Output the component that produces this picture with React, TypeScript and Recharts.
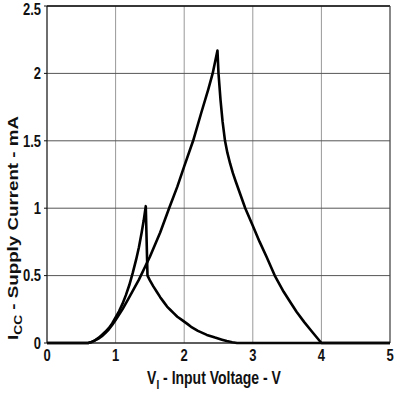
import { LineChart, Line, XAxis, YAxis, CartesianGrid, ReferenceLine } from 'recharts'

// Curve with the sharp peak near 1.45 V
const spikeVolts = [0, 0.6, 0.65, 0.7, 0.75, 0.8, 0.85, 0.9, 0.95, 1.0, 1.05, 1.1, 1.15, 1.2, 1.25, 1.3, 1.34, 1.38, 1.41, 1.44, 1.465, 1.5, 1.55, 1.6, 1.65, 1.7, 1.75, 1.8, 1.85, 1.9, 1.97, 2.05, 2.1, 2.2, 2.33, 2.45, 2.55, 2.62, 2.7, 2.77, 5]
const spikeCurrent = [0, 0, 0.008, 0.02, 0.038, 0.06, 0.083, 0.11, 0.145, 0.19, 0.235, 0.29, 0.355, 0.43, 0.52, 0.62, 0.71, 0.82, 0.91, 1.015, 0.5, 0.465, 0.42, 0.38, 0.34, 0.305, 0.27, 0.245, 0.22, 0.195, 0.17, 0.14, 0.12, 0.09, 0.06, 0.04, 0.025, 0.015, 0.006, 0, 0]

// Curve with the big peak near 2.5 V
const mainVolts = [0, 0.6, 0.65, 0.7, 0.75, 0.8, 0.85, 0.9, 0.95, 1.0, 1.1, 1.2, 1.34, 1.5, 1.65, 1.78, 1.9, 2.0, 2.13, 2.25, 2.35, 2.415, 2.485, 2.5, 2.53, 2.56, 2.595, 2.63, 2.67, 2.71, 2.75, 2.82, 2.89, 3.0, 3.1, 3.2, 3.32, 3.45, 3.55, 3.64, 3.75, 3.87, 4.0, 5]
const mainCurrent = [0, 0, 0.007, 0.02, 0.033, 0.05, 0.073, 0.1, 0.133, 0.17, 0.25, 0.34, 0.47, 0.64, 0.82, 1.0, 1.16, 1.31, 1.5, 1.71, 1.88, 2.0, 2.17, 2.0, 1.8, 1.64, 1.5, 1.41, 1.33, 1.26, 1.2, 1.1, 1.0, 0.87, 0.75, 0.64, 0.5, 0.38, 0.3, 0.23, 0.155, 0.08, 0, 0]

const xTicks = [0, 1, 2, 3, 4, 5]
const yTicks = [0, 0.5, 1, 1.5, 2, 2.5]

const FONT = '"Liberation Sans", Arial, sans-serif'
const STRETCH = 1.25 // the source picture is squashed wider than tall

const spikeData = spikeVolts.map((v, i) => ({ v, i: spikeCurrent[i] }))
const mainData = mainVolts.map((v, i) => ({ v, i: mainCurrent[i] }))

function XTick({ x, y, payload }: any) {
  return (
    <g transform={`translate(${x},${y}) scale(1,${STRETCH})`}>
      <text x={0} y={0} dy="0.71em" textAnchor="middle" fontSize={13} fontWeight="bold" fill="#111" fontFamily={FONT}>
        {payload.value}
      </text>
    </g>
  )
}

function YTick({ x, y, payload }: any) {
  return (
    <g transform={`translate(${x},${y}) scale(1,${STRETCH})`}>
      <text x={0} y={0} dy="0.355em" textAnchor="end" fontSize={13} fontWeight="bold" fill="#111" fontFamily={FONT}>
        {payload.value}
      </text>
    </g>
  )
}

function XTitle() {
  return (
    <g transform={`translate(214,378) scale(1,${STRETCH})`}>
      <text x={0} y={0} dy="0.355em" textAnchor="middle" fontSize={14} fontWeight="bold" fill="#111" fontFamily={FONT}>
        V<tspan fontSize={10} dy={4}>I</tspan>
        <tspan dy={-4}> - Input Voltage - V</tspan>
      </text>
    </g>
  )
}

function YTitle() {
  return (
    <g transform={`translate(13,228) rotate(-90) scale(${STRETCH},1)`}>
      <text x={0} y={0} dy="0.355em" textAnchor="middle" fontSize={15} fontWeight="bold" fill="#111" fontFamily={FONT}>
        I<tspan fontSize={11} dy={4}>CC</tspan>
        <tspan dy={-4}> - Supply Current - mA</tspan>
      </text>
    </g>
  )
}

export default function App() {
  return (
    <div style={{ position: 'absolute', left: 0, top: 0, background: '#fff' }}>
      <LineChart width={409} height={393} margin={{ top: 6, right: 19, left: 0, bottom: 0 }}>
        <CartesianGrid horizontal={false} stroke="#999" />
        <CartesianGrid vertical={false} stroke="#555" />
        <XAxis
          type="number"
          dataKey="v"
          domain={[0, 5]}
          ticks={xTicks}
          height={50}
          tickSize={0}
          tickMargin={6}
          tickLine={false}
          axisLine={{ stroke: '#111' }}
          tick={<XTick />}
          label={<XTitle />}
        />
        <YAxis
          type="number"
          dataKey="i"
          domain={[0, 2.5]}
          ticks={yTicks}
          width={47}
          tickSize={3}
          tickMargin={3}
          tickLine={{ stroke: '#111' }}
          axisLine={{ stroke: '#111' }}
          tick={<YTick />}
          label={<YTitle />}
        />
        <ReferenceLine y={2.5} stroke="#111" strokeWidth={1.5} />
        <ReferenceLine x={5} stroke="#444" />
        <Line
          data={spikeData}
          dataKey="i"
          type="linear"
          stroke="#000"
          strokeWidth={2.6}
          strokeLinejoin="round"
          dot={false}
          isAnimationActive={false}
        />
        <Line
          data={mainData}
          dataKey="i"
          type="linear"
          stroke="#000"
          strokeWidth={2.6}
          strokeLinejoin="round"
          dot={false}
          isAnimationActive={false}
        />
      </LineChart>
    </div>
  )
}
